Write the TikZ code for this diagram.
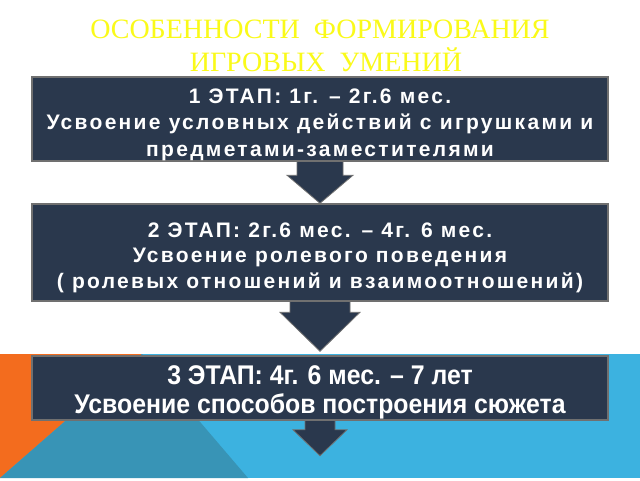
\documentclass[tikz,border=0pt]{standalone}
\usepackage{fontspec}
\setmainfont{Liberation Sans}
\newfontfamily\titlefont{Liberation Serif}
\newfontfamily\narrowfont[FakeStretch=0.92]{Liberation Sans}
\usetikzlibrary{calc}
\pgfdeclarelayer{background}
\pgfsetlayers{background,main}
\definecolor{boxblue}{RGB}{42,56,77}
\definecolor{edgegray}{RGB}{112,112,112}
\definecolor{titleyellow}{RGB}{250,250,25}
\definecolor{bandblue}{RGB}{60,178,224}
\definecolor{bandteal}{RGB}{56,148,182}
\definecolor{bandorange}{RGB}{243,108,30}
\begin{document}
\begin{tikzpicture}[x=1pt, y=-1pt,
  stagebox/.style={draw=edgegray, line width=1.5pt, fill=boxblue,
    minimum width=576pt, inner sep=0pt},
  stagetext/.style={text=white, align=center, inner sep=0pt,
    font=\bfseries\fontsize{21}{26.5}\selectfont\addfontfeature{LetterSpace=11}},
  blockarrow/.style={draw=edgegray, line width=0.8pt, fill=boxblue}]
\useasboundingbox (0,0) rectangle (640,480);
% title
\node[text=titleyellow, font=\titlefont\fontsize{28}{33}\selectfont, align=center,
  inner sep=0pt] (title) at (320,46) {ОСОБЕННОСТИ\ \ ФОРМИРОВАНИЯ\\\hspace*{12pt}ИГРОВЫХ\ \ УМЕНИЙ};
% stage boxes
\node[stagebox, minimum height=84pt] (stage1) at (320,119) {};
\node[stagebox, minimum height=97pt] (stage2) at (320,252.5) {};
\node[stagebox, minimum height=64pt] (stage3) at (320,388) {};
\coordinate (tip2) at ($(stage3.north)+(0,-4)$);
\coordinate (tip3) at ($(stage3.south)+(0,35)$);
\begin{pgfonlayer}{background}
\fill[white] (0,0) rectangle (640,480);
% coloured band at the bottom
\fill[bandblue] (0,354) rectangle (640,478);
\fill[bandorange] (0,354) -- (142,354) -- (0,478) -- cycle;
\fill[bandteal] (142,354) -- (248,478) -- (0,478) -- cycle;
% arrows
\filldraw[blockarrow] ($(stage1.south)+(-23,-3)$) -- ($(stage2.north)+(-23,-28)$)
  -- ($(stage2.north)+(-33,-28)$) -- (stage2.north) -- ($(stage2.north)+(33,-28)$)
  -- ($(stage2.north)+(23,-28)$) -- ($(stage1.south)+(23,-3)$) -- cycle;
\filldraw[blockarrow] ($(stage2.south)+(-30,-3)$) -- ($(tip2)+(-30,-39)$)
  -- ($(tip2)+(-40,-39)$) -- (tip2) -- ($(tip2)+(40,-39)$)
  -- ($(tip2)+(30,-39)$) -- ($(stage2.south)+(30,-3)$) -- cycle;
\filldraw[blockarrow] ($(stage3.south)+(-15,-3)$) -- ($(tip3)+(-15,-26)$)
  -- ($(tip3)+(-27,-26)$) -- (tip3) -- ($(tip3)+(27,-26)$)
  -- ($(tip3)+(15,-26)$) -- ($(stage3.south)+(15,-3)$) -- cycle;
\end{pgfonlayer}
% texts of the stages
\node[stagetext] (text1) at ($(stage1)+(0,5.5)$) {1 ЭТАП: 1г. – 2г.6 мес.\\Усвоение условных действий с игрушками и\\предметами-заместителями};
\node[stagetext, font=\bfseries\fontsize{21}{25.5}\selectfont\addfontfeature{LetterSpace=11}]
  (text2) at ($(stage2)+(0,5)$) {2 ЭТАП: 2г.6 мес. – 4г. 6 мес.\\Усвоение ролевого поведения\\( ролевых отношений и взаимоотношений)};
\node[stagetext, font=\narrowfont\bfseries\fontsize{27}{29}\selectfont]
  (text3) at ($(stage3)+(0,4.5)$) {3 ЭТАП: 4г. 6 мес. – 7 лет\\Усвоение способов построения сюжета};
\end{tikzpicture}
\end{document}
